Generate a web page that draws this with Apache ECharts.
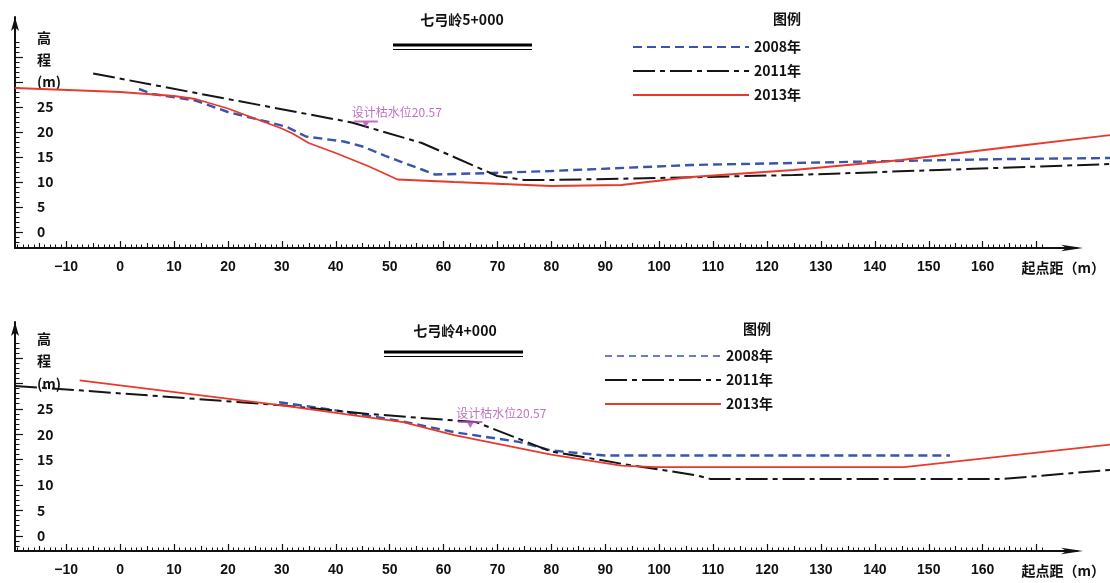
<!DOCTYPE html>
<html><head><meta charset="utf-8">
<script src="https://cdn.jsdelivr.net/npm/echarts@6/dist/echarts.min.js"></script>
<style>html,body{margin:0;padding:0;background:#fff}#c{width:1110px;height:583px}</style>
</head><body><div id="c"></div>
<script>
// ---------- data ----------
const seriesNames = ['2008年', '2011年', '2013年'];
const sectionTitles = ['七弓岭5+000', '七弓岭4+000'];
const legendTitle = '图例';
const xAxisName = '起点距（m）';
const waterLevelText = '设计枯水位20.57';

// 七弓岭5+000
const top2008X = [3.5, 6, 14, 20, 27.5, 31, 34.5, 41.5, 45, 49.5, 56, 58.5, 69, 80, 106, 139, 165, 184];
const top2008Y = [28.6, 27.6, 26.3, 24.0, 22.0, 21.0, 19.1, 18.1, 17.1, 15.1, 12.5, 11.5, 11.8, 12.2, 13.4, 14.1, 14.6, 14.8];
const top2011X = [-5, 43, 56, 70, 75, 80, 100, 125, 152, 184];
const top2011Y = [31.7, 21.9, 17.8, 11.2, 10.4, 10.4, 10.8, 11.4, 12.4, 13.6];
const top2013X = [-19.5, 0, 10, 14, 20, 26, 30, 32, 35, 40, 46, 51.5, 62, 80, 93, 106, 125, 145, 165, 184];
const top2013Y = [28.8, 28.0, 27.2, 26.6, 24.7, 22.3, 20.7, 19.7, 17.8, 15.8, 13.2, 10.5, 10.0, 9.2, 9.4, 11.0, 12.4, 14.4, 17.0, 19.4];
const topWaterMark = [45.6, 21.6];

// 七弓岭4+000
const bot2008X = [29.5, 40, 52.5, 62, 74, 80, 90, 154];
const bot2008Y = [26.3, 24.7, 22.5, 20.4, 18.5, 16.8, 15.8, 15.8];
const bot2011X = [-19.5, -7, 30, 46, 66, 80, 93, 107, 109.5, 164, 184];
const bot2011Y = [29.5, 28.6, 25.7, 24.0, 22.4, 16.6, 14.2, 11.9, 11.2, 11.2, 13.0];
const bot2013X = [-7.5, 30, 52.5, 62, 80, 93, 99.5, 145.5, 184];
const bot2013Y = [30.6, 25.7, 22.4, 19.8, 16.0, 13.8, 13.5, 13.5, 18.0];
const botWaterMark = [65, 21.9];

// tick labels
const xLabelValues = [-10, 0, 10, 20, 30, 40, 50, 60, 70, 80, 90, 100, 110, 120, 130, 140, 150, 160];
const yLabelValues = [0, 5, 10, 15, 20, 25, 30, 34.5, 38.8];
const yLabelTexts = ['0', '5', '10', '15', '20', '25', '(m)', '程', '高'];

// ---------- helpers ----------
function range(a, b, s) { const r = []; for (let v = a; v <= b + 1e-9; v += s) r.push(v); return r; }
function zip(xs, ys) { return xs.map((x, i) => [x, ys[i]]); }
const xMajor = range(-10, 170, 10), xMid = range(-15, 165, 10), xMinor = range(-19, 171, 1);
const yMajor = range(0, 35, 5), yMinor = range(-2, 38, 1);

const NUMF = '"Liberation Sans Narrow","Arial Narrow","Liberation Sans",Arial,sans-serif';
const CJK = '"Noto Sans CJK SC","Liberation Sans",sans-serif';
const COL = { b: '#3a54ab', k: '#151515', r: '#e8392c', w: '#b04cb4' };

const X_MIN = -19.5, X_AXIS_MAX = 177.5, X_DATA_MAX = 183.7;
const panels = [
  { top: 17, height: 231, yMin: -3.2, yMax: 43 },
  { top: 322, height: 229, yMin: -3, yMax: 42.1 }
];

const grid = [], xAxis = [], yAxis = [];
panels.forEach((p, k) => {
  const gData = k * 2, gAx = k * 2 + 1;
  grid.push({ left: 15, right: 0, top: p.top, height: p.height });
  grid.push({ left: 15, width: 1062, top: p.top, height: p.height });
  xAxis.push({ gridIndex: gData, type: 'value', min: X_MIN, max: X_DATA_MAX, show: false });
  xAxis.push({
    gridIndex: gAx, type: 'value', min: X_MIN, max: X_AXIS_MAX, position: 'bottom',
    name: xAxisName, nameLocation: 'end', nameGap: 28,
    nameTextStyle: { align: 'right', verticalAlign: 'top', padding: [13, 0, 0, 0], fontFamily: CJK, fontWeight: 'bold', fontSize: 14, color: '#111' },
    axisLine: { show: true, onZero: false, symbol: ['none', 'arrow'], symbolSize: [5, 22], symbolOffset: [0, 6], lineStyle: { color: '#111', width: 2 } },
    axisTick: { show: true, inside: true, length: 7, customValues: xMajor, lineStyle: { color: '#111', width: 1.2 } },
    axisLabel: { show: true, customValues: xLabelValues, margin: 12, fontFamily: NUMF, fontWeight: 'bold', fontSize: 14, color: '#111',
      formatter: v => (v < 0 ? '\u2212' + Math.abs(v) : String(v)) },
    splitLine: { show: false }
  });
  xAxis.push({
    gridIndex: gAx, type: 'value', min: X_MIN, max: X_AXIS_MAX, position: 'bottom',
    axisLine: { show: false, onZero: false }, axisLabel: { show: false }, splitLine: { show: false },
    axisTick: { show: true, inside: true, length: 5, customValues: xMid, lineStyle: { color: '#111', width: 1.1 } }
  });
  xAxis.push({
    gridIndex: gAx, type: 'value', min: X_MIN, max: X_AXIS_MAX, position: 'bottom',
    axisLine: { show: false, onZero: false }, axisLabel: { show: false }, splitLine: { show: false },
    axisTick: { show: true, inside: true, length: 3.5, customValues: xMinor, lineStyle: { color: '#111', width: 1 } }
  });
  yAxis.push({
    gridIndex: gData, type: 'value', min: p.yMin, max: p.yMax, position: 'left',
    axisLine: { show: true, onZero: false, symbol: ['none', 'arrow'], symbolSize: [6, 14], lineStyle: { color: '#111', width: 2 } },
    axisTick: { show: true, inside: true, length: 8, customValues: yMajor, lineStyle: { color: '#111', width: 1.2 } },
    axisLabel: { show: true, inside: true, margin: 22, customValues: yLabelValues, fontFamily: CJK, fontWeight: 'bold', fontSize: 14, color: '#111',
      formatter: v => yLabelTexts[yLabelValues.indexOf(v)] },
    splitLine: { show: false }
  });
  yAxis.push({
    gridIndex: gData, type: 'value', min: p.yMin, max: p.yMax, position: 'left',
    axisLine: { show: false, onZero: false }, axisLabel: { show: false }, splitLine: { show: false },
    axisTick: { show: true, inside: true, length: 4.5, customValues: yMinor, lineStyle: { color: '#111', width: 1 } }
  });
  yAxis.push({ gridIndex: gAx, type: 'value', min: p.yMin, max: p.yMax, show: false });
});

function lineSeries(name, xs, ys, style, k) {
  return {
    type: 'line', name, xAxisIndex: k * 4, yAxisIndex: k * 3, data: zip(xs, ys),
    symbol: 'none', smooth: false, silent: true, animation: false,
    itemStyle: { color: style.color }, lineStyle: style, z: 3
  };
}
const sBlue = { color: COL.b, width: 2.4, type: [9, 5] };
const sBlack = { color: COL.k, width: 2, type: [22, 5, 5, 5] };
const sRed = { color: COL.r, width: 1.8, type: 'solid' };

function waterMark(pt, k) {
  return {
    type: 'scatter', name: 'water' + k, xAxisIndex: k * 4, yAxisIndex: k * 3, data: [pt],
    symbol: 'path://M0,0 L24,0 L24,2 L0,2 Z M9,2 L12,7 L15,2 Z', symbolSize: [24, 7],
    itemStyle: { color: COL.w }, silent: true, animation: false, z: 6,
    label: { show: true, formatter: waterLevelText, position: 'top', align: 'left', offset: [-14, 0], distance: 2,
      fontFamily: CJK, fontSize: 12, color: COL.w }
  };
}

const series = [
  lineSeries(seriesNames[0], top2008X, top2008Y, sBlue, 0),
  lineSeries(seriesNames[1], top2011X, top2011Y, sBlack, 0),
  lineSeries(seriesNames[2], top2013X, top2013Y, sRed, 0),
  waterMark(topWaterMark, 0),
  lineSeries(seriesNames[0], bot2008X, bot2008Y, sBlue, 1),
  lineSeries(seriesNames[1], bot2011X, bot2011Y, sBlack, 1),
  lineSeries(seriesNames[2], bot2013X, bot2013Y, sRed, 1),
  waterMark(botWaterMark, 1)
];

const legTxt = { fontFamily: CJK, fontWeight: 'bold', fontSize: 14, color: '#111' };
const hideSym = { color: 'rgba(0,0,0,0)', borderWidth: 0, opacity: 0 };
const legend = [
  { left: 632, top: 40, orient: 'vertical', itemWidth: 116, itemHeight: 14, itemGap: 10, selectedMode: false,
    itemStyle: hideSym,
    data: seriesNames.map(n => ({ name: n })), textStyle: legTxt, padding: 0 },
  { left: 604, top: 349, orient: 'vertical', itemWidth: 116, itemHeight: 14, itemGap: 10, selectedMode: false,
    itemStyle: hideSym,
    data: [{ name: seriesNames[0], lineStyle: { width: 1.4, type: [7, 5] } }, { name: seriesNames[1] }, { name: seriesNames[2] }],
    textStyle: legTxt, padding: 0 }
];

const tStyle = { fontFamily: CJK, fontWeight: 'bold', fontSize: 14, color: '#111' };
const title = [
  { text: sectionTitles[0], left: 462, top: 13, textAlign: 'center', textStyle: tStyle, padding: 0 },
  { text: legendTitle, left: 787, top: 12, textAlign: 'center', textStyle: tStyle, padding: 0 },
  { text: sectionTitles[1], left: 455, top: 324, textAlign: 'center', textStyle: tStyle, padding: 0 },
  { text: legendTitle, left: 757, top: 322, textAlign: 'center', textStyle: tStyle, padding: 0 }
];

const graphic = [
  { type: 'line', shape: { x1: 393, y1: 45, x2: 532, y2: 45 }, style: { stroke: '#000', lineWidth: 3 } },
  { type: 'line', shape: { x1: 393, y1: 49.5, x2: 532, y2: 49.5 }, style: { stroke: '#000', lineWidth: 1.2 } },
  { type: 'line', shape: { x1: 384, y1: 352, x2: 523, y2: 352 }, style: { stroke: '#000', lineWidth: 3 } },
  { type: 'line', shape: { x1: 384, y1: 356.5, x2: 523, y2: 356.5 }, style: { stroke: '#000', lineWidth: 1.2 } }
];

const chart = echarts.init(document.getElementById('c'), null, { renderer: 'canvas' });
chart.setOption({ backgroundColor: '#fff', animation: false, title, legend, grid, xAxis, yAxis, series, graphic });
</script></body></html>
